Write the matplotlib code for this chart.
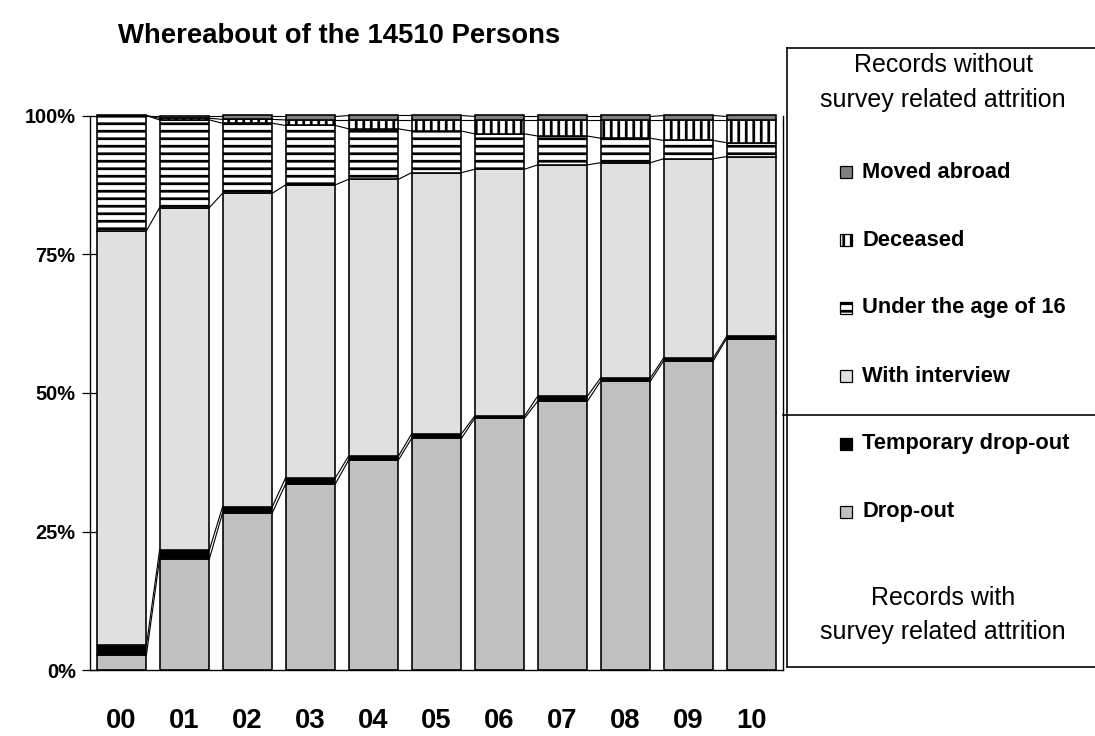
import numpy as np
import matplotlib
matplotlib.use("Agg")
import matplotlib.pyplot as plt
from matplotlib.patches import Rectangle
from matplotlib.lines import Line2D

plt.rcParams['font.family'] = ['Liberation Sans', 'DejaVu Sans']
plt.rcParams['hatch.linewidth'] = 2.2
plt.rcParams['hatch.color'] = 'black'

years = ["00", "01", "02", "03", "04", "05", "06", "07", "08", "09", "10"]
dropout = [2.75, 20.1, 28.4, 33.6, 37.9, 41.8, 45.4, 48.5, 52.1, 55.8, 59.8]
temporary = [1.75, 1.6, 1.1, 1.1, 0.7, 0.8, 0.4, 0.9, 0.6, 0.5, 0.4]
interview = [74.7, 61.7, 56.5, 52.8, 49.9, 47.1, 44.5, 41.7, 38.8, 35.9, 32.4]
under16 = [20.8, 15.8, 12.6, 10.7, 9.1, 7.5, 6.4, 5.2, 4.4, 3.3, 2.5]
deceased = [0.0, 0.3, 0.7, 1.0, 1.6, 2.0, 2.5, 2.9, 3.3, 3.7, 4.1]
moved = [0.0, 0.5, 0.7, 0.8, 0.8, 0.8, 0.8, 0.8, 0.8, 0.8, 0.8]

series = [
    ("Drop-out", dropout, "#c0c0c0", None),
    ("Temporary drop-out", temporary, "#000000", None),
    ("With interview", interview, "#e0e0e0", None),
    ("Under the age of 16", under16, "#ffffff", "--"),
    ("Deceased", deceased, "#ffffff", "||"),
    ("Moved abroad", moved, "#808080", None),
]

W, H = 1095, 736
DPI = 90
fig = plt.figure(figsize=(W / DPI, H / DPI), dpi=DPI)


def fx(x):
    return x / W


def fy(y):
    return 1 - y / H


y0, y100 = 670.3, 115.5
ax = fig.add_axes([fx(90), fy(y0), (783 - 90) / W, (y0 - y100) / H])

x = np.arange(len(years))
width = 0.79
vals = np.array([s[1] for s in series], dtype=float)
tot = vals.sum(axis=0)
vals = vals / tot * 100.0
cum = np.cumsum(vals, axis=0)
bottoms = cum - vals

for k, (name, _, col, hatch) in enumerate(series):
    bars = ax.bar(x, vals[k], width, bottom=bottoms[k], color=col,
                  edgecolor='black', linewidth=1.3, hatch=hatch, zorder=2)
    for b in bars:
        b.set_clip_on(False)

# series lines
for k in range(len(series)):
    for i in range(len(years) - 1):
        ax.plot([x[i] + width / 2, x[i + 1] - width / 2], [cum[k][i], cum[k][i + 1]],
                color='black', lw=0.9, zorder=3, clip_on=False)

ax.set_xlim(-0.5, len(years) - 0.5)
ax.set_ylim(0, 100)
ax.set_yticks([0, 25, 50, 75, 100])
ax.set_yticklabels(["0%", "25%", "50%", "75%", "100%"], fontsize=16, fontweight='bold')
ax.set_xticks(x)
ax.set_xticklabels(years, fontsize=22, fontweight='bold')
ax.tick_params(axis='y', direction='inout', length=13, width=1, pad=5)
ax.tick_params(axis='x', length=0, pad=30)
ax.spines['top'].set_visible(False)
for s in ['left', 'right', 'bottom']:
    ax.spines[s].set_linewidth(1.1)
ax.set_facecolor('none')

fig.text(fx(118), fy(36), "Whereabout of the 14510 Persons", fontsize=22,
         fontweight='bold', ha='left', va='center')

# legend box
lw_box = 1.3
box_lines = [
    ((787, 787), (48, 667)),
    ((787, 1095), (48, 48)),
    ((787, 1095), (667, 667)),
    ((783, 1095), (415, 415)),
]
for xs, ys in box_lines:
    fig.add_artist(Line2D([fx(v) for v in xs], [fy(v) for v in ys],
                          color='black', lw=lw_box, transform=fig.transFigure))

fig.text(fx(943), fy(65), "Records without", fontsize=20, ha='center', va='center')
fig.text(fx(943), fy(100), "survey related attrition", fontsize=20, ha='center', va='center')
fig.text(fx(943), fy(598), "Records with", fontsize=20, ha='center', va='center')
fig.text(fx(943), fy(632), "survey related attrition", fontsize=20, ha='center', va='center')

legend_y = [172, 240, 308, 376, 444, 512]
for yy, k in zip(legend_y, range(len(series) - 1, -1, -1)):
    name, _, col, hatch = series[k]
    fig.add_artist(Rectangle((fx(840), fy(yy + 6)), 12 / W, 12 / H,
                             facecolor=col, edgecolor='black', lw=1.0,
                             hatch=hatch, transform=fig.transFigure))
    fig.text(fx(862), fy(yy), name, fontsize=17.5, fontweight='bold',
             ha='left', va='center')

fig.savefig("out.png", dpi=DPI)
